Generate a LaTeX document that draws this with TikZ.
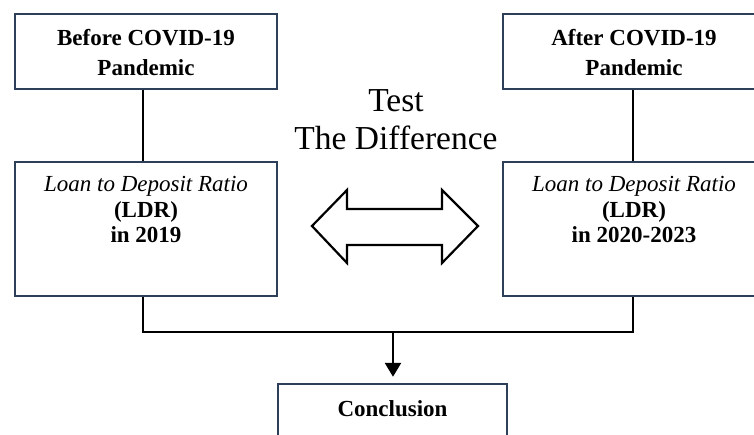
\documentclass[tikz,border=0pt]{standalone}
\usepackage{fontspec}
\setmainfont{Liberation Serif}
\usetikzlibrary{arrows.meta}
\definecolor{boxedge}{HTML}{2E3F5A}
\tikzset{
  box/.style={draw=boxedge, line width=2.4pt, fill=white, rectangle, inner sep=0pt},
  conn/.style={draw=black, line width=2.6pt},
  boxtext/.style={align=center, font=\fontsize{23}{25.5}\selectfont, inner sep=0pt, anchor=base},
  toptext/.style={align=center, font=\fontsize{23}{30}\selectfont\bfseries, inner sep=0pt, anchor=base},
}
\begin{document}
\begin{tikzpicture}[x=1pt,y=-1pt]
  \useasboundingbox (0,0) rectangle (754,435);
  \clip (0,0) rectangle (754,435);

  % boxes
  \node[box, minimum width=262pt, minimum height=75pt] (before) at (146,51.5) {};
  \node[box, minimum width=262pt, minimum height=75pt] (after) at (634,51.5) {};
  \node[box, minimum width=262pt, minimum height=134pt] (ldr1) at (146,229) {};
  \node[box, minimum width=262pt, minimum height=134pt] (ldr2) at (634,229) {};
  \node[box, minimum width=229pt, minimum height=90pt] (concl) at (392.5,429) {};

  % labels (anchored on the baseline of their last line)
  \node[toptext] (tbefore) at (146,76) {Before COVID-19\\Pandemic};
  \node[toptext] (tafter) at (634,76) {After COVID-19\\Pandemic};
  \node[boxtext] (tldr1) at (146,243) {\textit{Loan to Deposit Ratio}\\\textbf{(LDR)}\\\textbf{in 2019}};
  \node[boxtext] (tldr2) at (634,243) {\textit{Loan to Deposit Ratio}\\\textbf{(LDR)}\\\textbf{in 2020-2023}};
  \node[boxtext, font=\fontsize{23}{25}\selectfont\bfseries] (tconcl) at (392.5,416) {Conclusion};
  \node[align=center, font=\fontsize{33.5}{38}\selectfont, inner sep=0pt, anchor=base] (test) at (396,150) {Test\\The Difference};

  % connectors
  \coordinate (cl) at (143,0);
  \coordinate (cr) at (633,0);
  \coordinate (jl) at (143,332);
  \coordinate (jr) at (633,332);
  \coordinate (jm) at (393,332);
  \draw[conn] (cl |- before.south) -- (cl |- ldr1.north);
  \draw[conn] (cr |- after.south) -- (cr |- ldr2.north);
  \draw[conn] (cl |- ldr1.south) -- (jl) -- (jr) -- (cr |- ldr2.south);
  \draw[conn, -{Triangle[width=16pt,length=14pt]}, shorten >=6pt] (jm) -- (jm |- concl.north);

  % two-headed block arrow
  \draw[line width=2.2pt, fill=white, line join=miter]
    (312,226) -- (347,190) -- (347,209) -- (442,209) -- (442,190) -- (478,226)
    -- (442,263) -- (442,245) -- (347,245) -- (347,263) -- cycle;
\end{tikzpicture}
\end{document}
